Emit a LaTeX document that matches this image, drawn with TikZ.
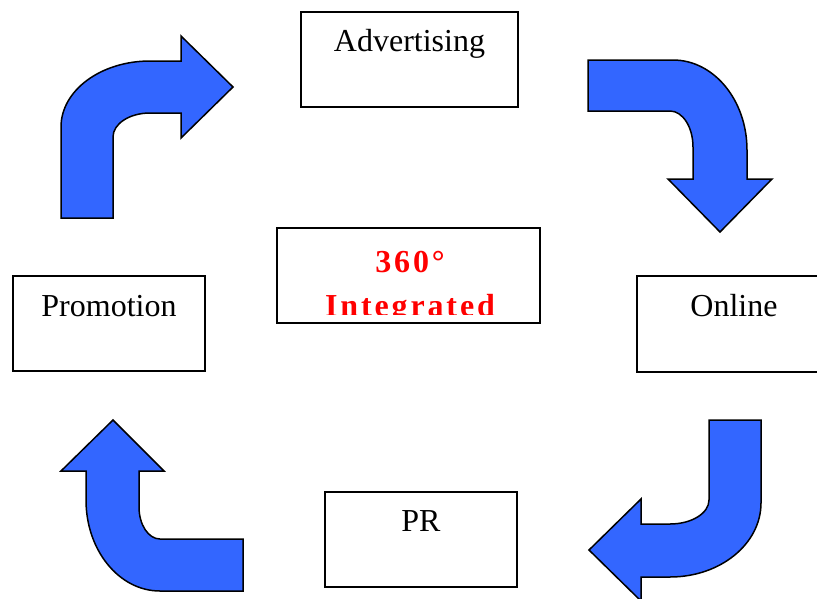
\documentclass[tikz,border=0pt]{standalone}
\usepackage{fontspec}
\setmainfont{Liberation Serif}
\usetikzlibrary{calc}
\definecolor{arrowblue}{RGB}{51,102,255}
\definecolor{textred}{RGB}{255,0,0}
\tikzset{
  box/.style={draw=black, line width=2pt, fill=white, rectangle, inner sep=0pt},
  lbl/.style={anchor=base, inner sep=0pt, font=\fontsize{32}{38}\selectfont},
  centerlbl/.style={anchor=base, inner sep=0pt, text=textred,
    font=\fontsize{32}{38}\selectfont\bfseries\addfontfeatures{LetterSpace=9}},
  bentarrow/.style={fill=arrowblue, draw=black, line width=1.5pt, line join=miter}
}
\begin{document}
\begin{tikzpicture}[x=1pt,y=-1pt]
\useasboundingbox (0,0) rectangle (817,598);
\clip (0,0) rectangle (817,598);

% boxes
\node[box, minimum width=217pt, minimum height=95pt] (adv) at (409.5,59.5) {};
\node[lbl] (advtext) at ($(adv.north)+(0,40.5)$) {Advertising};

\node[box, minimum width=192pt, minimum height=95pt] (promo) at (109,323.5) {};
\node[lbl] (promotext) at ($(promo.north)+(0,41)$) {Promotion};

\node[box, minimum width=194pt, minimum height=96pt] (online) at (734,324) {};
\node[lbl] (onlinetext) at ($(online.north)+(0,41)$) {Online};

\node[box, minimum width=192pt, minimum height=95pt] (pr) at (421,539.5) {};
\node[lbl] (prtext) at ($(pr.north)+(0,40)$) {PR};

\node[box, minimum width=263pt, minimum height=95pt] (center) at (408.5,275.5) {};
\begin{scope}
  \clip (279,230) rectangle (538,314);
  \node[centerlbl] (deg) at (410,272) {360°};
  \node[centerlbl] (integ) at (410,316) {Integrated};
\end{scope}

% top-left bent arrow (up then right)
\path[bentarrow] (61,218) -- (61,127)
  .. controls (61,90.5) and (100.8,61) .. (150,61)
  -- (181,61) -- (181,36) -- (233,87) -- (181,138) -- (181,113) -- (150,113)
  .. controls (129.6,113) and (113,123.7) .. (113,137)
  -- (113,218) -- cycle;

% top-right bent arrow (right then down)
\path[bentarrow] (588,60) -- (673,60)
  .. controls (713.9,60) and (747,100.3) .. (747,150)
  -- (747,179) -- (772,179) -- (720,232) -- (668,179) -- (693,179) -- (693,147)
  .. controls (693,127.1) and (682.7,111) .. (670,111)
  -- (588,111) -- cycle;

% bottom-right bent arrow (down then left)
\path[bentarrow] (709,420) -- (761,420) -- (761,503)
  .. controls (761,543.9) and (720.3,577) .. (670,577)
  -- (641,577) -- (641,601) -- (589,550) -- (641,499) -- (641,524) -- (670,524)
  .. controls (691.5,524) and (709,513.3) .. (709,500)
  -- cycle;

% bottom-left bent arrow (left then up)
\path[bentarrow] (113,420) -- (164,471) -- (139,471) -- (139,507)
  .. controls (139,524.7) and (148.4,539) .. (160,539)
  -- (243,539) -- (243,591) -- (160,591)
  .. controls (119.1,591) and (86,550.3) .. (86,500)
  -- (86,471) -- (61,471) -- cycle;
\end{tikzpicture}
\end{document}
